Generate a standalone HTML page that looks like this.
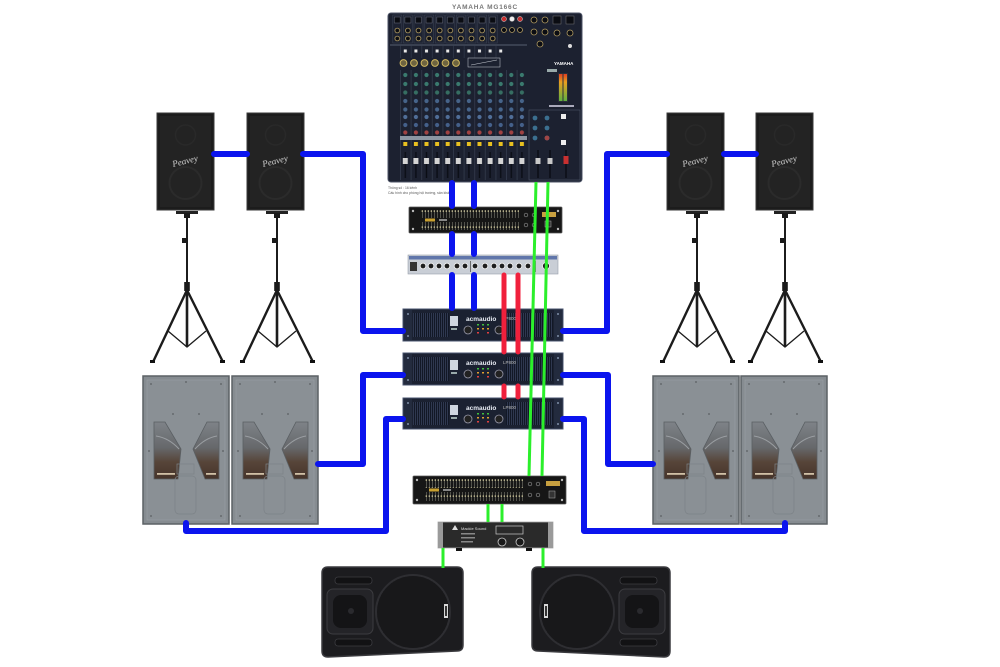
<!DOCTYPE html>
<html><head><meta charset="utf-8"><style>
html,body{margin:0;padding:0;background:#fff;}
svg{display:block;}
text{font-family:"Liberation Sans",sans-serif;}
</style></head><body>
<svg width="1000" height="667" viewBox="0 0 1000 667" xmlns="http://www.w3.org/2000/svg">
<defs>
  <pattern id="vent" x="0" y="0" width="2" height="10" patternUnits="userSpaceOnUse">
    <rect width="2" height="10" fill="#121826"/><rect width="0.8" height="10" fill="#36405a"/>
  </pattern>
  <pattern id="eqs" x="0" y="0" width="3" height="8" patternUnits="userSpaceOnUse">
    <rect width="3" height="8" fill="#161616"/><rect x="1" width="0.6" height="8" fill="#7a7a70"/><rect x="0.6" y="3.5" width="1.4" height="1.2" fill="#d8d0a0"/>
  </pattern>
  <pattern id="jk" x="392" y="14" width="10.6" height="30" patternUnits="userSpaceOnUse">
    <rect x="0.8" y="1" width="9" height="28" fill="none" stroke="#3e4658" stroke-width="0.5"/>
    <rect x="2.3" y="3" width="6" height="6" fill="#0a0c12" stroke="#6b7080" stroke-width="0.5"/>
    <circle cx="5.3" cy="16.5" r="2.4" fill="#0a0c12" stroke="#b09a60" stroke-width="0.8"/>
    <circle cx="5.3" cy="24.5" r="2.4" fill="#0a0c12" stroke="#b09a60" stroke-width="0.8"/>
  </pattern>
  <pattern id="wd" x="400" y="45" width="10.6" height="14" patternUnits="userSpaceOnUse">
    <rect x="3.8" y="4.5" width="3" height="3" fill="#e8e8e8"/>
    <rect x="0.3" y="0" width="0.5" height="14" fill="#3b4456"/>
  </pattern>
  <pattern id="ch" x="400" y="70" width="10.6" height="110" patternUnits="userSpaceOnUse">
    <rect x="0.2" y="0" width="0.6" height="110" fill="#3b4456"/>
    <circle cx="5.3" cy="5" r="2.1" fill="#3a7a6e"/>
    <circle cx="5.3" cy="14" r="2.1" fill="#3a7a6e"/>
    <circle cx="5.3" cy="22.5" r="2.1" fill="#366e62"/>
    <circle cx="5.3" cy="31" r="2.1" fill="#46648a"/>
    <circle cx="5.3" cy="39.5" r="2.1" fill="#46648a"/>
    <circle cx="5.3" cy="47" r="2.1" fill="#506e98"/>
    <circle cx="5.3" cy="55" r="2.1" fill="#44608a"/>
    <circle cx="5.3" cy="62.5" r="2.1" fill="#a04242"/>
    <rect x="0" y="66" width="10.6" height="4" fill="#8c96a3"/>
    <rect x="3.3" y="72" width="4" height="4" fill="#e8c020"/>
    <rect x="4.6" y="82" width="1.4" height="26" fill="#0a0d14"/>
    <rect x="2.8" y="88" width="5" height="6" fill="#d4d4d4"/>
  </pattern>
  <pattern id="grill" x="0" y="0" width="2" height="2" patternUnits="userSpaceOnUse">
    <rect width="2" height="2" fill="#141416"/><circle cx="1" cy="1" r="0.45" fill="#2c2c30"/>
  </pattern>
  <linearGradient id="cut" x1="0" y1="0" x2="0" y2="1">
    <stop offset="0" stop-color="#7e8388"/><stop offset="0.45" stop-color="#66686b"/><stop offset="0.7" stop-color="#574539"/><stop offset="1" stop-color="#46342a"/>
  </linearGradient>
  <linearGradient id="led" x1="0" y1="0" x2="0" y2="1">
    <stop offset="0" stop-color="#e04020"/><stop offset="0.3" stop-color="#e8a020"/><stop offset="1" stop-color="#60b040"/>
  </linearGradient>
  <g id="stand">
    <rect x="-11" y="211" width="22" height="3" fill="#222"/>
    <rect x="-3" y="213" width="6" height="5" fill="#1a1a1a"/>
    <line x1="0" y1="217" x2="0" y2="285" stroke="#1c1c1c" stroke-width="2"/>
    <line x1="0" y1="285" x2="0" y2="347" stroke="#1c1c1c" stroke-width="2.6"/>
    <rect x="-5" y="238" width="6" height="5" fill="#1a1a1a"/>
    <rect x="-2.8" y="282" width="5.6" height="9" fill="#1a1a1a"/>
    <path d="M0 290 L-34 362 M0 290 L36 362" stroke="#1c1c1c" stroke-width="2.4" fill="none"/>
    <path d="M-19 331 L0 347 L19 331" stroke="#1c1c1c" stroke-width="1.3" fill="none"/>
    <rect x="-37" y="360" width="5" height="3" fill="#111"/>
    <rect x="33" y="360" width="5" height="3" fill="#111"/>
  </g>
  <g id="pv">
    <rect x="0" y="0" width="57" height="97" fill="#1c1c1c" stroke="#3a3a3a" stroke-width="1"/>
    <rect x="3" y="3" width="51" height="91" fill="#232323"/>
    <circle cx="28.5" cy="70" r="16" fill="none" stroke="#2b2b2b" stroke-width="2"/>
    <circle cx="28.5" cy="22" r="10" fill="none" stroke="#292929" stroke-width="1.5"/>
  </g>
  <g id="sub">
    <rect x="0" y="0" width="86" height="148" fill="#868c91" stroke="#5c6165" stroke-width="1.5"/>
    <rect x="4" y="4" width="78" height="140" fill="#8a9095" stroke="#9aa0a5" stroke-width="0.6"/>
    <polygon points="11,46 22,46 38,73 35,103 11,103" fill="url(#cut)" stroke="#5a5f63" stroke-width="0.8"/>
    <polygon points="64,46 76,46 76,103 62,103 50,73" fill="url(#cut)" stroke="#5a5f63" stroke-width="0.8"/>
    <path d="M13 60 Q26 62 36 73" stroke="#9a9ea2" stroke-width="1" fill="none"/>
    <path d="M74 60 Q62 62 52 73" stroke="#9a9ea2" stroke-width="1" fill="none"/>
    <rect x="14" y="97" width="18" height="1.8" fill="#d0c0a6"/>
    <rect x="63" y="97" width="10" height="1.8" fill="#d0c0a6"/>
    <rect x="34" y="88" width="17" height="10" fill="none" stroke="#7c8287" stroke-width="0.7"/>
    <rect x="32" y="100" width="21" height="38" rx="4" fill="none" stroke="#7c8287" stroke-width="0.7"/>
    <g fill="#5a5e62">
      <circle cx="8" cy="8" r="0.9"/><circle cx="43" cy="6" r="0.9"/><circle cx="78" cy="8" r="0.9"/>
      <circle cx="30" cy="38" r="0.9"/><circle cx="56" cy="38" r="0.9"/>
      <circle cx="8" cy="140" r="0.9"/><circle cx="78" cy="140" r="0.9"/>
      <circle cx="6" cy="75" r="0.9"/><circle cx="80" cy="75" r="0.9"/>
    </g>
  </g>
</defs>

<rect width="1000" height="667" fill="#ffffff"/>

<!-- ===== MIXER ===== -->
<text x="485" y="9" font-size="6.5" fill="#777" text-anchor="middle" letter-spacing="0.8" font-weight="bold">YAMAHA MG166C</text>
<rect x="388" y="13" width="194" height="169" rx="3" fill="#1c2130" stroke="#4c5366" stroke-width="1"/>
<rect x="392" y="14" width="106" height="30" fill="url(#jk)"/>
<circle cx="504" cy="19" r="2.5" fill="#c83030" stroke="#ddd" stroke-width="0.5"/>
<circle cx="512" cy="19" r="2.5" fill="#eee" stroke="#999" stroke-width="0.5"/>
<circle cx="520" cy="19" r="2.5" fill="#c83030" stroke="#ddd" stroke-width="0.5"/>
<circle cx="504" cy="30" r="2.5" fill="#0a0c12" stroke="#b09a60" stroke-width="0.8"/>
<circle cx="512" cy="30" r="2.5" fill="#0a0c12" stroke="#b09a60" stroke-width="0.8"/>
<circle cx="520" cy="30" r="2.5" fill="#0a0c12" stroke="#b09a60" stroke-width="0.8"/>
<circle cx="534" cy="20" r="3" fill="#0a0c12" stroke="#b09a60" stroke-width="0.8"/>
<circle cx="545" cy="20" r="3" fill="#0a0c12" stroke="#b09a60" stroke-width="0.8"/>
<rect x="553" y="16" width="8" height="8" fill="#0a0c12" stroke="#777" stroke-width="0.5"/>
<rect x="566" y="16" width="8" height="8" fill="#0a0c12" stroke="#777" stroke-width="0.5"/>
<circle cx="534" cy="32" r="3" fill="#0a0c12" stroke="#b09a60" stroke-width="0.8"/>
<circle cx="545" cy="32" r="3" fill="#0a0c12" stroke="#b09a60" stroke-width="0.8"/>
<circle cx="557" cy="33" r="3" fill="#0a0c12" stroke="#b09a60" stroke-width="0.8"/>
<circle cx="570" cy="33" r="3" fill="#0a0c12" stroke="#b09a60" stroke-width="0.8"/>
<circle cx="540" cy="44" r="3" fill="#0a0c12" stroke="#b09a60" stroke-width="0.8"/>
<circle cx="570" cy="46" r="2" fill="#ddd"/>
<line x1="390" y1="45" x2="527" y2="45" stroke="#6a7384" stroke-width="0.7"/>
<rect x="400" y="45" width="106" height="13" fill="url(#wd)"/>
<g fill="#6e6440" stroke="#d0b860" stroke-width="1">
  <circle cx="403.5" cy="63" r="3.4"/><circle cx="414" cy="63" r="3.4"/><circle cx="424.5" cy="63" r="3.4"/>
  <circle cx="435" cy="63" r="3.4"/><circle cx="445.5" cy="63" r="3.4"/><circle cx="456" cy="63" r="3.4"/>
</g>
<rect x="468" y="58" width="32" height="9" fill="none" stroke="#c8ccd4" stroke-width="0.5"/>
<line x1="471" y1="65" x2="497" y2="60" stroke="#c8ccd4" stroke-width="0.6"/>
<rect x="400" y="70" width="127" height="110" fill="url(#ch)"/>
<!-- right section -->
<text x="554" y="65" font-size="4.5" fill="#ffffff" font-weight="bold">YAMAHA</text>
<rect x="547" y="69" width="10" height="3" fill="#9aa"/>
<rect x="558" y="73" width="10" height="29" fill="#2b2f3a"/>
<rect x="559" y="74" width="3.5" height="27" fill="url(#led)"/>
<rect x="563.5" y="74" width="3.5" height="27" fill="url(#led)"/>
<rect x="549" y="105" width="25" height="2" fill="#aab"/>
<rect x="529" y="110" width="51" height="70" fill="none" stroke="#4c5568" stroke-width="0.6"/>
<g fill="#3b6f8f"><circle cx="535" cy="118" r="2.4"/><circle cx="547" cy="118" r="2.4"/><circle cx="535" cy="128" r="2.4"/><circle cx="547" cy="128" r="2.4"/><circle cx="535" cy="138" r="2.4"/><circle cx="547" cy="138" r="2.4"/></g>
<circle cx="547" cy="138" r="2.4" fill="#a04545"/>
<rect x="561" y="114" width="5" height="5" fill="#eee"/>
<rect x="561" y="140" width="5" height="5" fill="#eee"/>
<rect x="537.3" y="150" width="1.4" height="28" fill="#0a0d14"/>
<rect x="549.3" y="150" width="1.4" height="28" fill="#0a0d14"/>
<rect x="565.3" y="150" width="1.4" height="28" fill="#0a0d14"/>
<rect x="535.5" y="158" width="5" height="6" fill="#c8c8c8"/>
<rect x="547.5" y="158" width="5" height="6" fill="#c8c8c8"/>
<rect x="563.5" y="156" width="5" height="8" fill="#c83030"/>
<text x="388" y="189" font-size="3.4" fill="#555">Thông số : 16 kênh</text>
<text x="388" y="194" font-size="3.4" fill="#555">Cấu hình cho phòng hội trường, sân khấu</text>

<!-- ===== UPPER EQ ===== -->
<g transform="translate(409,207)">
  <rect width="153" height="26" rx="1" fill="#161616" stroke="#555" stroke-width="0.8"/>
  <g fill="#bbb"><circle cx="4" cy="4" r="1.2"/><circle cx="4" cy="22" r="1.2"/><circle cx="149" cy="4" r="1.2"/><circle cx="149" cy="22" r="1.2"/></g>
  <rect x="12" y="3" width="99" height="8" fill="url(#eqs)"/>
  <rect x="12" y="15" width="99" height="8" fill="url(#eqs)"/>
  <rect x="16" y="11.5" width="10" height="3" fill="#c9a030"/>
  <rect x="30" y="12" width="8" height="2" fill="#888"/>
  <g fill="none" stroke="#888" stroke-width="0.7"><circle cx="117" cy="8" r="1.8"/><circle cx="125" cy="8" r="1.8"/><circle cx="117" cy="18" r="1.8"/><circle cx="125" cy="18" r="1.8"/></g>
  <rect x="133" y="5" width="14" height="5" fill="#c8a040"/>
  <rect x="136" y="14" width="6" height="6" fill="#333" stroke="#aaa" stroke-width="0.5"/>
</g>

<!-- ===== CROSSOVER ===== -->
<g transform="translate(408,255)">
  <rect width="150" height="19" fill="#c9ced6" stroke="#9aa0aa" stroke-width="0.6"/>
  <rect x="1" y="1" width="148" height="3.5" fill="#6076aa"/>
  <rect x="2" y="7" width="7" height="9" fill="#333"/>
  <g fill="#1e1e1e" stroke="#f4f4f4" stroke-width="0.8">
    <circle cx="15" cy="11" r="2.8"/><circle cx="23" cy="11" r="2.8"/><circle cx="31" cy="11" r="2.8"/><circle cx="39" cy="11" r="2.8"/>
    <circle cx="49" cy="11" r="2.8"/><circle cx="57" cy="11" r="2.8"/><circle cx="67" cy="11" r="2.8"/><circle cx="77" cy="11" r="2.8"/>
    <circle cx="86" cy="11" r="2.8"/><circle cx="94" cy="11" r="2.8"/><circle cx="102" cy="11" r="2.8"/><circle cx="111" cy="11" r="2.8"/>
    <circle cx="120" cy="11" r="2.8"/><circle cx="138" cy="11" r="3.5"/>
  </g>
  <rect x="62" y="6" width="0.8" height="11" fill="#555"/>
  <rect x="127" y="6" width="0.8" height="11" fill="#555"/>
</g>

<!-- ===== AMPS ===== -->
<g transform="translate(403,309)">
  <rect width="160" height="32" fill="#1b2131" stroke="#4a5570" stroke-width="1"/>
  <rect x="1" y="1" width="8" height="30" fill="#232b3e"/><rect x="151" y="1" width="8" height="30" fill="#232b3e"/>
  <g fill="#8090a8"><circle cx="5" cy="5" r="1"/><circle cx="5" cy="27" r="1"/><circle cx="155" cy="5" r="1"/><circle cx="155" cy="27" r="1"/></g>
  <rect x="10" y="4" width="140" height="24" fill="url(#vent)"/>
  <rect x="46" y="3" width="57" height="26" fill="#1b2131"/>
  <rect x="47" y="7" width="8" height="10" fill="#cfd6e0"/><rect x="48" y="19" width="6" height="2" fill="#9aa"/>
  <text x="63" y="12" font-size="6.5" fill="#e8ecf4" font-weight="bold">acmaudio</text>
  <text x="100" y="11" font-size="4.5" fill="#bbb">LP800</text>
  <circle cx="65" cy="21" r="4" fill="#222" stroke="#99a" stroke-width="0.8"/>
  <circle cx="96" cy="21" r="4" fill="#222" stroke="#99a" stroke-width="0.8"/>
  <g fill="#40c040"><rect x="74" y="15" width="2" height="1.5"/><rect x="79" y="15" width="2" height="1.5"/><rect x="84" y="15" width="2" height="1.5"/></g>
  <g fill="#e0a030"><rect x="74" y="19" width="2" height="1.5"/><rect x="79" y="19" width="2" height="1.5"/><rect x="84" y="19" width="2" height="1.5"/></g>
  <g fill="#e04040"><rect x="74" y="23" width="2" height="1.5"/><rect x="84" y="23" width="2" height="1.5"/></g>
</g>
<g transform="translate(403,353)">
  <rect width="160" height="32" fill="#1b2131" stroke="#4a5570" stroke-width="1"/>
  <rect x="1" y="1" width="8" height="30" fill="#232b3e"/><rect x="151" y="1" width="8" height="30" fill="#232b3e"/>
  <g fill="#8090a8"><circle cx="5" cy="5" r="1"/><circle cx="5" cy="27" r="1"/><circle cx="155" cy="5" r="1"/><circle cx="155" cy="27" r="1"/></g>
  <rect x="10" y="4" width="140" height="24" fill="url(#vent)"/>
  <rect x="46" y="3" width="57" height="26" fill="#1b2131"/>
  <rect x="47" y="7" width="8" height="10" fill="#cfd6e0"/><rect x="48" y="19" width="6" height="2" fill="#9aa"/>
  <text x="63" y="12" font-size="6.5" fill="#e8ecf4" font-weight="bold">acmaudio</text>
  <text x="100" y="11" font-size="4.5" fill="#bbb">LP800</text>
  <circle cx="65" cy="21" r="4" fill="#222" stroke="#99a" stroke-width="0.8"/>
  <circle cx="96" cy="21" r="4" fill="#222" stroke="#99a" stroke-width="0.8"/>
  <g fill="#40c040"><rect x="74" y="15" width="2" height="1.5"/><rect x="79" y="15" width="2" height="1.5"/><rect x="84" y="15" width="2" height="1.5"/></g>
  <g fill="#e0a030"><rect x="74" y="19" width="2" height="1.5"/><rect x="79" y="19" width="2" height="1.5"/><rect x="84" y="19" width="2" height="1.5"/></g>
  <g fill="#e04040"><rect x="74" y="23" width="2" height="1.5"/><rect x="84" y="23" width="2" height="1.5"/></g>
</g>
<g transform="translate(403,398)">
  <rect width="160" height="31" fill="#1b2131" stroke="#4a5570" stroke-width="1"/>
  <rect x="1" y="1" width="8" height="29" fill="#232b3e"/><rect x="151" y="1" width="8" height="29" fill="#232b3e"/>
  <g fill="#8090a8"><circle cx="5" cy="5" r="1"/><circle cx="5" cy="26" r="1"/><circle cx="155" cy="5" r="1"/><circle cx="155" cy="26" r="1"/></g>
  <rect x="10" y="4" width="140" height="23" fill="url(#vent)"/>
  <rect x="46" y="3" width="57" height="25" fill="#1b2131"/>
  <rect x="47" y="7" width="8" height="10" fill="#cfd6e0"/><rect x="48" y="19" width="6" height="2" fill="#9aa"/>
  <text x="63" y="12" font-size="6.5" fill="#e8ecf4" font-weight="bold">acmaudio</text>
  <text x="100" y="11" font-size="4.5" fill="#bbb">LP800</text>
  <circle cx="65" cy="21" r="4" fill="#222" stroke="#99a" stroke-width="0.8"/>
  <circle cx="96" cy="21" r="4" fill="#222" stroke="#99a" stroke-width="0.8"/>
  <g fill="#40c040"><rect x="74" y="15" width="2" height="1.5"/><rect x="79" y="15" width="2" height="1.5"/><rect x="84" y="15" width="2" height="1.5"/></g>
  <g fill="#e0a030"><rect x="74" y="19" width="2" height="1.5"/><rect x="79" y="19" width="2" height="1.5"/><rect x="84" y="19" width="2" height="1.5"/></g>
  <g fill="#e04040"><rect x="74" y="23" width="2" height="1.5"/><rect x="84" y="23" width="2" height="1.5"/></g>
</g>

<!-- ===== LOWER EQ ===== -->
<g transform="translate(413,476)">
  <rect width="153" height="28" rx="1" fill="#161616" stroke="#555" stroke-width="0.8"/>
  <g fill="#bbb"><circle cx="4" cy="4" r="1.2"/><circle cx="4" cy="24" r="1.2"/><circle cx="149" cy="4" r="1.2"/><circle cx="149" cy="24" r="1.2"/></g>
  <rect x="12" y="3" width="99" height="9" fill="url(#eqs)"/>
  <rect x="12" y="16" width="99" height="9" fill="url(#eqs)"/>
  <rect x="16" y="12.5" width="10" height="3" fill="#c9a030"/>
  <rect x="30" y="13" width="8" height="2" fill="#888"/>
  <g fill="none" stroke="#888" stroke-width="0.7"><circle cx="117" cy="8" r="1.8"/><circle cx="125" cy="8" r="1.8"/><circle cx="117" cy="19" r="1.8"/><circle cx="125" cy="19" r="1.8"/></g>
  <rect x="133" y="5" width="14" height="5" fill="#c8a040"/>
  <rect x="136" y="15" width="6" height="7" fill="#333" stroke="#aaa" stroke-width="0.5"/>
</g>

<!-- ===== SMALL AMP ===== -->
<g transform="translate(438,522)">
  <rect width="115" height="26" fill="#2a2a2a" stroke="#aaa" stroke-width="0.8"/>
  <rect x="0" y="0" width="5" height="26" fill="#9a9a9a"/><rect x="110" y="0" width="5" height="26" fill="#9a9a9a"/>
  <polygon points="14,8 17,3 20,8" fill="#ddd"/>
  <text x="23" y="8" font-size="4" fill="#ddd">Mackie Sound</text>
  <rect x="23" y="11" width="14" height="1.5" fill="#888"/><rect x="23" y="15" width="14" height="1.5" fill="#888"/><rect x="23" y="19" width="12" height="1.5" fill="#888"/>
  <rect x="58" y="4" width="27" height="8" fill="none" stroke="#ccc" stroke-width="0.7"/>
  <circle cx="64" cy="20" r="4" fill="#1a1a1a" stroke="#ccc" stroke-width="0.8"/>
  <circle cx="82" cy="20" r="4" fill="#1a1a1a" stroke="#ccc" stroke-width="0.8"/>
  <rect x="18" y="26" width="6" height="3" fill="#111"/><rect x="88" y="26" width="6" height="3" fill="#111"/>
</g>

<!-- ===== PEAVEY SPEAKERS + STANDS ===== -->
<use href="#stand" x="187"/>
<use href="#stand" x="277"/>
<use href="#stand" x="697"/>
<use href="#stand" x="785"/>
<use href="#pv" x="157" y="113"/>
<use href="#pv" x="247" y="113"/>
<use href="#pv" x="667" y="113"/>
<use href="#pv" x="756" y="113"/>
<text x="185" y="164" text-anchor="middle" transform="rotate(-14 185 161)" style="font-family:'Liberation Serif',serif;font-style:italic;font-size:9px;fill:#d0d0d0;">Peavey</text>
<text x="275" y="164" text-anchor="middle" transform="rotate(-14 275 161)" style="font-family:'Liberation Serif',serif;font-style:italic;font-size:9px;fill:#d0d0d0;">Peavey</text>
<text x="695" y="164" text-anchor="middle" transform="rotate(-14 695 161)" style="font-family:'Liberation Serif',serif;font-style:italic;font-size:9px;fill:#d0d0d0;">Peavey</text>
<text x="784" y="164" text-anchor="middle" transform="rotate(-14 784 161)" style="font-family:'Liberation Serif',serif;font-style:italic;font-size:9px;fill:#d0d0d0;">Peavey</text>

<!-- ===== SUBWOOFERS ===== -->
<use href="#sub" x="143" y="376"/>
<use href="#sub" x="232" y="376"/>
<use href="#sub" x="653" y="376"/>
<use href="#sub" x="741" y="376"/>

<!-- ===== BOTTOM SPEAKERS ===== -->
<g>
  <path d="M328 567 L457 567 Q463 567 463 573 L463 645 Q463 651 457 651 L328 657 Q322 657 322 651 L322 573 Q322 567 328 567 Z" fill="#1c1c1f" stroke="#3a3a3e" stroke-width="1.5"/>
  <rect x="335" y="577" width="37" height="7" rx="3" fill="#121214" stroke="#3c3c40" stroke-width="0.8"/>
  <rect x="335" y="639" width="37" height="7" rx="3" fill="#121214" stroke="#3c3c40" stroke-width="0.8"/>
  <rect x="327" y="589" width="46" height="45" rx="6" fill="#242428" stroke="#3c3c40" stroke-width="1"/>
  <rect x="333" y="595" width="34" height="33" rx="8" fill="#141416"/>
  <circle cx="351" cy="611" r="3" fill="#2a2a2e"/>
  <circle cx="413" cy="612" r="37" fill="url(#grill)" stroke="#2e2e32" stroke-width="2"/>
  <rect x="444" y="604" width="4" height="14" fill="#d8d8d8"/>
  <rect x="445" y="606" width="2" height="10" fill="#333"/>
</g>
<g>
  <path d="M538 567 L664 567 Q670 567 670 573 L670 651 Q670 657 664 657 L538 651 Q532 651 532 645 L532 573 Q532 567 538 567 Z" fill="#1c1c1f" stroke="#3a3a3e" stroke-width="1.5"/>
  <rect x="620" y="577" width="37" height="7" rx="3" fill="#121214" stroke="#3c3c40" stroke-width="0.8"/>
  <rect x="620" y="639" width="37" height="7" rx="3" fill="#121214" stroke="#3c3c40" stroke-width="0.8"/>
  <rect x="619" y="589" width="46" height="45" rx="6" fill="#242428" stroke="#3c3c40" stroke-width="1"/>
  <rect x="625" y="595" width="34" height="33" rx="8" fill="#141416"/>
  <circle cx="640" cy="611" r="3" fill="#2a2a2e"/>
  <circle cx="577" cy="612" r="37" fill="url(#grill)" stroke="#2e2e32" stroke-width="2"/>
  <rect x="544" y="604" width="4" height="14" fill="#d8d8d8"/>
  <rect x="545" y="606" width="2" height="10" fill="#333"/>
</g>

<!-- ===== BLUE CABLES ===== -->
<g stroke="#0b14ee" stroke-width="6" fill="none" stroke-linejoin="round" stroke-linecap="round">
  <path d="M214 154 H247"/>
  <path d="M303 154 H363 V331 H403"/>
  <path d="M724 154 H756"/>
  <path d="M667 154 H607 V331 H563"/>
  <path d="M318 464 H363 V375 H403"/>
  <path d="M186 523 V531 H386 V419 H403"/>
  <path d="M563 375 H608 V464 H653"/>
  <path d="M563 419 H584 V531 H785 V523"/>
  <path d="M452 183 V206 M474 183 V206"/>
  <path d="M452 234 V254 M474 234 V254"/>
  <path d="M452 275 V308 M474 275 V308"/>
</g>

<!-- ===== RED CABLES ===== -->
<g stroke="#f0203c" stroke-width="5" fill="none" stroke-linecap="round">
  <path d="M504 275 V352 M518 275 V352"/>
  <path d="M504 386 V397 M518 386 V397"/>
</g>

<!-- ===== GREEN CABLES ===== -->
<g stroke="#2bef2b" stroke-width="3" fill="none">
  <path d="M536 182 L529 476"/>
  <path d="M548 182 L542 476"/>
  <path d="M488 504 V522 M502 504 V522"/>
  <path d="M443 548 V568 M543 548 V568"/>
</g>
</svg>
</body></html>
